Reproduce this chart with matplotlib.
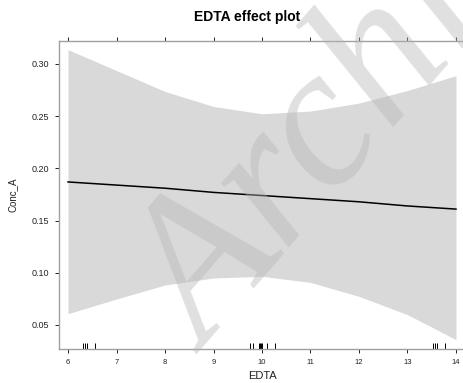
import matplotlib
matplotlib.use("Agg")
import matplotlib.pyplot as plt
import numpy as np

# values
edta = [6, 7, 8, 9, 10, 11, 12, 13, 14]
fit = [0.187, 0.184, 0.181, 0.177, 0.174, 0.171, 0.168, 0.164, 0.161]
upper = [0.3137, 0.2937, 0.2737, 0.2593, 0.2523, 0.2549, 0.2625, 0.2746, 0.2888]
lower = [0.0608, 0.0749, 0.0883, 0.0950, 0.0966, 0.0908, 0.0774, 0.0599, 0.0359]
rug = [6.31, 6.35, 6.39, 6.55, 9.75, 9.81, 9.94, 9.96, 9.98, 10.0,
       10.10, 10.27, 13.53, 13.57, 13.61, 13.78]
xticks = [6, 7, 8, 9, 10, 11, 12, 13, 14]
yticks = [0.05, 0.10, 0.15, 0.20, 0.25, 0.30]

plt.rcParams['font.family'] = ['Liberation Sans', 'DejaVu Sans']

fig = plt.figure(figsize=(4.63, 3.83), dpi=100)
ax = fig.add_axes([59 / 463, 1 - 349 / 383, 406 / 463, 308 / 383])

ax.fill_between(edta, lower, upper, color='#d9d9d9', linewidth=0)
ax.plot(edta, fit, color='black', linewidth=1.1)
ax.vlines(rug, 0, 0.02, color='black', linewidth=0.7,
          transform=ax.get_xaxis_transform())

ax.set_xlim(5.814, 14.186)
ax.set_ylim(0.027, 0.322)
ax.set_xticks(xticks)
ax.set_xticklabels([str(t) for t in xticks])
ax.set_yticks(yticks)
ax.set_yticklabels([f"{t:.2f}" for t in yticks])
ax.tick_params(axis='x', top=True, labelsize=5.5, length=3, width=0.7,
               colors='#222222', pad=4)
ax.tick_params(axis='y', labelsize=6.5, length=3, width=0.7,
               colors='#222222', pad=4)
for s in ax.spines.values():
    s.set_color('#a0a0a0')
    s.set_linewidth(1.0)

ax.set_xlabel('EDTA', fontsize=8, color='#222222', labelpad=4)
ax.set_ylabel('Conc_A', fontsize=7, color='#222222', labelpad=10)

fig.text(247.5 / 463, 1 - 17 / 383, 'EDTA effect plot', fontsize=10,
         fontweight='bold', ha='center', va='center')

# watermark
fig.text(208 / 463, 1 - 355 / 383, 'Archives', fontsize=145,
         family='Liberation Serif', style='italic', fontweight='normal',
         color='#b5b5b5', alpha=0.42, rotation=49, rotation_mode='anchor',
         ha='left', va='baseline', zorder=10)

fig.savefig('out.png', dpi=100)
